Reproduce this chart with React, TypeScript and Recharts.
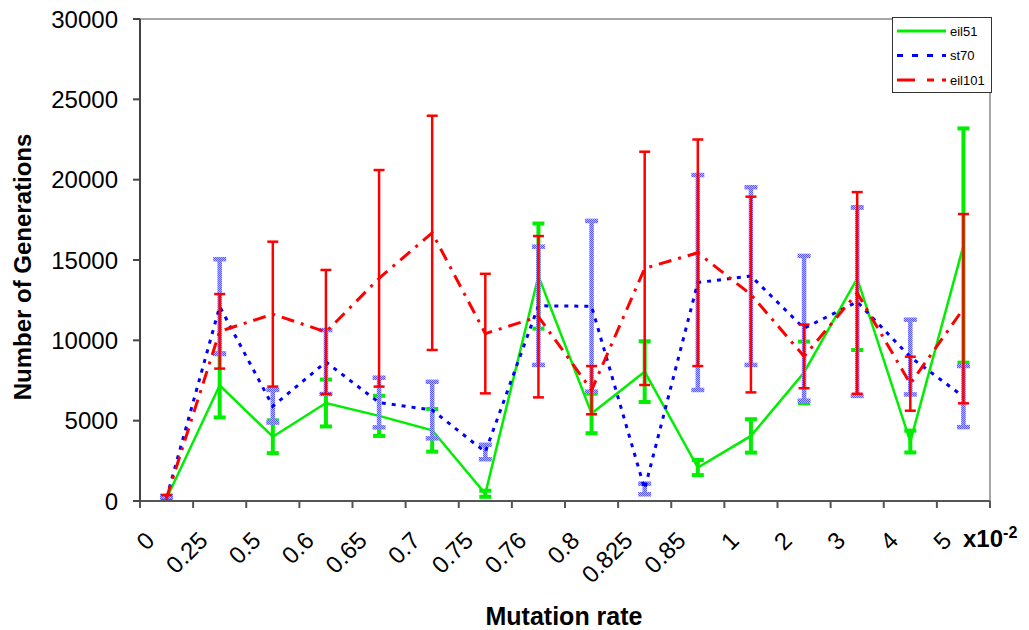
import { LineChart, Line, XAxis, YAxis, ErrorBar, ReferenceLine } from "recharts";

const FONT = "'Liberation Sans', Arial, Helvetica, sans-serif";

// mutation rates (x10^-2)
const categories = ["0", "0.25", "0.5", "0.6", "0.65", "0.7", "0.75", "0.76", "0.8", "0.825", "0.85", "1", "2", "3", "4", "5"];

// mean generations and std deviation per instance
const eil51 = [150, 7200, 4000, 6100, 5300, 4400, 450, 14000, 5450, 8050, 2080, 4050, 8000, 13850, 3700, 15900];
const eil51Err = [80, 2000, 1020, 1460, 1250, 1330, 190, 3270, 1230, 1890, 470, 1040, 1920, 4450, 680, 7290];

const st70 = [200, 12100, 5900, 8650, 6130, 5660, 3050, 12150, 12120, 750, 13600, 14000, 10750, 12400, 8960, 6500];
const st70Err = [120, 2950, 1015, 1990, 1545, 1760, 450, 3680, 5315, 330, 6690, 5530, 4505, 5860, 2325, 1900];

const eil101 = [200, 10560, 11630, 10520, 13860, 16690, 10420, 11470, 6900, 14480, 15450, 12850, 9000, 12950, 7300, 11970];
const eil101Err = [170, 2320, 4510, 3860, 6740, 7290, 3720, 5020, 1500, 7260, 7050, 6090, 1980, 6275, 1680, 5890];

const yTicks = [0, 5000, 10000, 15000, 20000, 25000, 30000];
const xTicks = Array.from({ length: categories.length + 1 }, (_, i) => i);

const data = categories.map((c, i) => ({
  x: i + 0.5,
  rate: c,
  eil51: eil51[i],
  eil51Err: eil51Err[i],
  st70: st70[i],
  st70Err: st70Err[i],
  eil101: eil101[i],
  eil101Err: eil101Err[i],
}));

const legendItems = [
  { name: "eil51", color: "#00ee00", dash: undefined as string | undefined },
  { name: "st70", color: "#0000ff", dash: "6 9" },
  { name: "eil101", color: "#ff0000", dash: "18 12 7 8" },
];

const XTick = ({ x, y, payload }: any) => {
  const i = payload.value;
  if (i >= categories.length) {
    return (
      <text x={x - 27} y={y + 39} fontFamily={FONT} fontWeight="bold" fontSize={24} fill="#000">
        x10
        <tspan fontSize={16} dy={-9}>-2</tspan>
      </text>
    );
  }
  const ax = x + 16;
  const ay = y + 34;
  return (
    <text
      x={ax}
      y={ay}
      transform={`rotate(-45 ${ax} ${ay})`}
      textAnchor="end"
      fontFamily={FONT}
      fontSize={24}
      fill="#000"
    >
      {categories[i]}
    </text>
  );
};

export default function App() {
  return (
    <div style={{ position: "absolute", left: 0, top: 0, width: 1029, height: 630, background: "#fff" }}>
      <LineChart width={1029} height={630} data={data} margin={{ top: 19, right: 39, bottom: 69, left: 0 }}>
        <defs>
          <pattern id="dither" width="2" height="2" patternUnits="userSpaceOnUse">
            <rect width="2" height="2" fill="#b8b8ff" />
            <rect width="1" height="1" fill="#5a5aff" />
            <rect x="1" y="1" width="1" height="1" fill="#5a5aff" />
          </pattern>
        </defs>
        <ReferenceLine y={30000} stroke="#888" strokeWidth={1.5} />
        <ReferenceLine x={16} stroke="#888" strokeWidth={1.5} />
        <XAxis
          dataKey="x"
          type="number"
          domain={[0, 16]}
          ticks={xTicks}
          interval={0}
          height={60}
          tickSize={7}
          tickMargin={0}
          tick={<XTick />}
          stroke="#555"
          strokeWidth={2}
        />
        <YAxis
          type="number"
          domain={[0, 30000]}
          ticks={yTicks}
          interval={0}
          width={140}
          tickSize={7}
          tickMargin={15}
          stroke="#444"
          strokeWidth={2}
          tick={{ fontFamily: FONT, fontSize: 24, fill: "#000" }}
        />
        <Line
          dataKey="eil51"
          type="linear"
          stroke="#00ee00"
          strokeWidth={2.5}
          dot={false}
          activeDot={false}
          isAnimationActive={false}
        >
          <ErrorBar dataKey="eil51Err" direction="y" width={6} stroke="#00ee00" strokeWidth={4} />
        </Line>
        <Line
          dataKey="st70"
          type="linear"
          stroke="#0000ff"
          strokeWidth={3}
          strokeDasharray="4 6"
          dot={false}
          activeDot={false}
          isAnimationActive={false}
        >
          <ErrorBar dataKey="st70Err" direction="y" width={6.5} stroke="url(#dither)" strokeWidth={4.5} />
        </Line>
        <Line
          dataKey="eil101"
          type="linear"
          stroke="#ff0000"
          strokeWidth={3}
          strokeDasharray="13 7 3 7"
          dot={false}
          activeDot={false}
          isAnimationActive={false}
        >
          <ErrorBar dataKey="eil101Err" direction="y" width={5.5} stroke="#ff0000" strokeWidth={2.5} />
        </Line>
      </LineChart>

      <svg
        width={1029}
        height={630}
        style={{ position: "absolute", left: 0, top: 0, pointerEvents: "none" }}
        fontFamily={FONT}
      >
        <text
          transform="translate(31, 267) rotate(-90)"
          textAnchor="middle"
          fontSize={24}
          fontWeight="bold"
          fill="#000"
        >
          Number of Generations
        </text>
        <text x={564} y={625} textAnchor="middle" fontSize={25} fontWeight="bold" fill="#000">
          Mutation rate
        </text>

        <rect x={892.5} y={17.5} width={99} height={75} fill="#fff" stroke="#333" strokeWidth={1} />
        {legendItems.map((item, i) => {
          const cy = 31 + i * 24.5;
          return (
            <g key={item.name}>
              <line x1={897} y1={cy} x2={946} y2={cy} stroke={item.color} strokeWidth={3} strokeDasharray={item.dash} />
              <text x={950} y={cy + 4.5} fontSize={13} fill="#000">
                {item.name}
              </text>
            </g>
          );
        })}
      </svg>
    </div>
  );
}
